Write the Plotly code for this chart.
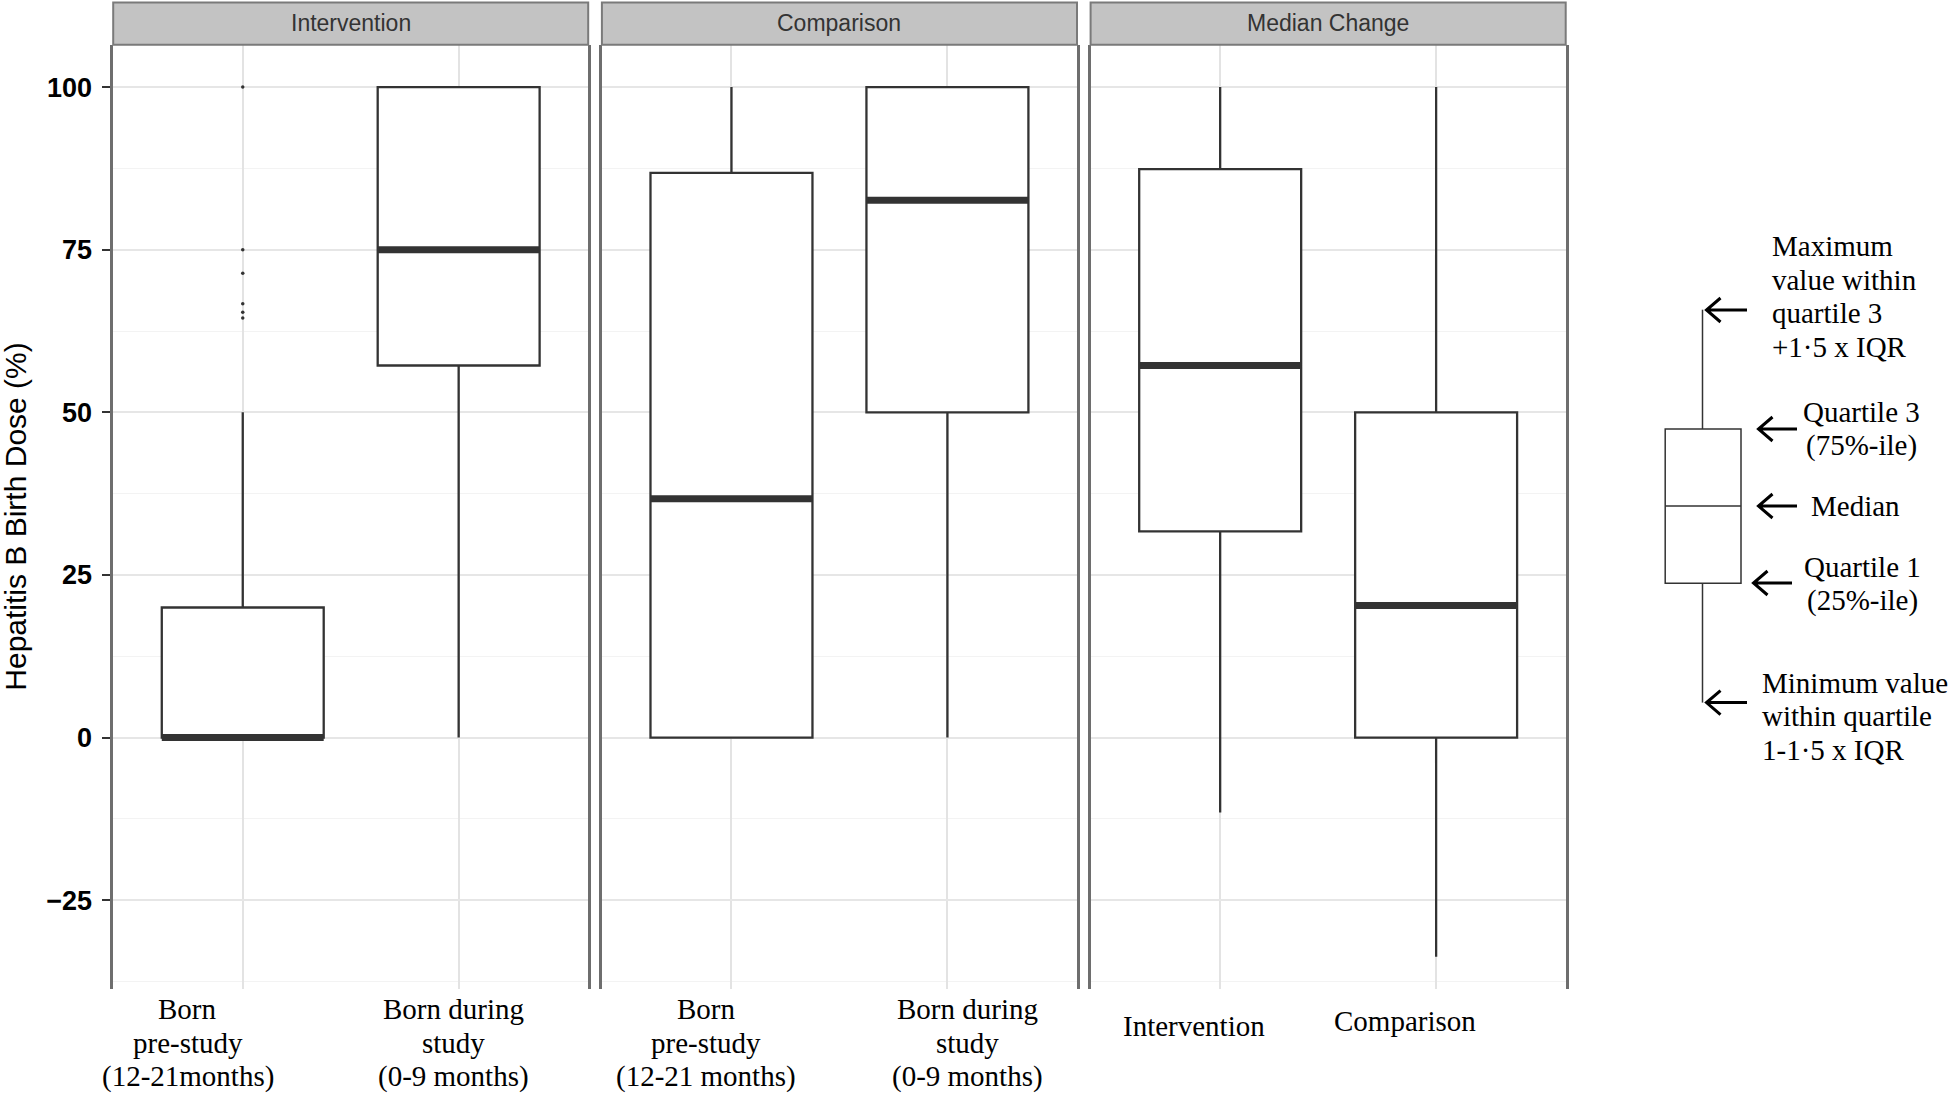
import plotly.graph_objects as go

W, H = 1950, 1096

# ---------------- data ----------------
panel_titles = ["Intervention", "Comparison", "Median Change"]
cat_pos = [1, 2]
q1_vals = [[0, 57.2], [0, 50], [31.7, 0]]
median_vals = [[0, 75], [36.7, 82.6], [57.2, 20.3]]
q3_vals = [[20, 100], [86.8, 100], [87.4, 50]]
lower_vals = [[0, 0], [0, 0], [-11.5, -33.7]]
upper_vals = [[50, 100], [100, 100], [100, 100]]
outliers_pre_intervention = [100, 75, 71.4, 66.7, 65.4, 64.5]
x_labels = [
    [["Born", "pre-study", "(12-21months)"], ["Born during", "study", "(0-9 months)"]],
    [["Born", "pre-study", "(12-21 months)"], ["Born during", "study", "(0-9 months)"]],
    [["Intervention"], ["Comparison"]],
]
y_tick_vals = [-25, 0, 25, 50, 75, 100]
y_tick_text = ["\u221225", "0", "25", "50", "75", "100"]
y_title = "Hepatitis B Birth Dose (%)"

# ---------------- layout helpers (pixel -> paper) ----------------
def px(x):
    return x / W

def py(y):
    return 1 - y / H

panel_px = [(113.2, 588.2), (601.9, 1077.0), (1090.6, 1565.7)]
plot_top, plot_bot = 44.8, 988.7
strip_top = 2.5
BOX_W = 0.75
DARK = "#333333"
LINE_H = 34.0

fig = go.Figure()

for i in range(3):
    xa = "x" if i == 0 else f"x{i+1}"
    ya = "y" if i == 0 else f"y{i+1}"
    for j, c in enumerate(cat_pos):
        fig.add_trace(go.Box(
            x=[c], q1=[q1_vals[i][j]], median=[median_vals[i][j]], q3=[q3_vals[i][j]],
            lowerfence=[lower_vals[i][j]], upperfence=[upper_vals[i][j]],
            width=BOX_W, fillcolor="white", line=dict(color=DARK, width=2.3),
            whiskerwidth=0, boxpoints=False, hoverinfo="skip",
            xaxis=xa, yaxis=ya, showlegend=False,
        ))
    # thick median lines
    mx, my = [], []
    for j, c in enumerate(cat_pos):
        mx += [c - BOX_W / 2, c + BOX_W / 2, None]
        my += [median_vals[i][j], median_vals[i][j], None]
    fig.add_trace(go.Scatter(x=mx, y=my, mode="lines", line=dict(color=DARK, width=7),
                             xaxis=xa, yaxis=ya, showlegend=False, hoverinfo="skip"))

# outliers (Intervention, born pre-study)
fig.add_trace(go.Scatter(x=[cat_pos[0]] * len(outliers_pre_intervention), y=outliers_pre_intervention,
                         mode="markers", marker=dict(color=DARK, size=3.5),
                         xaxis="x", yaxis="y", showlegend=False, hoverinfo="skip"))

layout = dict(
    width=W, height=H, margin=dict(l=0, r=0, t=0, b=0),
    paper_bgcolor="white", plot_bgcolor="white",
    showlegend=False, boxmode="overlay",
)
ydomain = [py(plot_bot), py(plot_top)]
for i in range(3):
    xk = "xaxis" if i == 0 else f"xaxis{i+1}"
    yk = "yaxis" if i == 0 else f"yaxis{i+1}"
    layout[xk] = dict(
        domain=[px(panel_px[i][0]), px(panel_px[i][1])],
        range=[0.4, 2.6], tickvals=cat_pos, showticklabels=False, ticks="",
        showgrid=True, gridcolor="#E3E3E3", gridwidth=1.5, zeroline=False,
        showline=False, anchor="y" if i == 0 else f"y{i+1}", fixedrange=True,
    )
    ydict = dict(
        domain=ydomain, range=[-38.6, 106.5],
        tickmode="array", tickvals=y_tick_vals,
        showgrid=True, gridcolor="#E6E6E6", gridwidth=1.5, zeroline=False,
        showline=True, mirror=True, linecolor="#6E6E6E", linewidth=2.5,
        minor=dict(tickmode="linear", tick0=0, dtick=12.5, showgrid=True,
                   gridcolor="#F3F3F3", gridwidth=1.2, ticks=""),
        anchor="x" if i == 0 else f"x{i+1}", fixedrange=True,
    )
    if i == 0:
        ydict.update(ticktext=y_tick_text, ticks="outside", ticklen=8, tickwidth=1.5,
                     tickcolor=DARK, ticklabelstandoff=5,
                     tickfont=dict(family="Liberation Sans", size=27, color="black", weight="bold"))
    else:
        ydict.update(matches="y", showticklabels=False, ticks="")
    layout[yk] = ydict
fig.update_layout(**layout)

shapes = []
annotations = []
# strips
for i in range(3):
    x0, x1 = panel_px[i]
    shapes.append(dict(type="rect", xref="paper", yref="paper",
                       x0=px(x0), x1=px(x1), y0=py(plot_top), y1=py(strip_top),
                       fillcolor="#C3C3C3", line=dict(color="#7A7A7A", width=2), layer="above"))
    annotations.append(dict(xref="paper", yref="paper", x=px((x0 + x1) / 2), y=py(23),
                            text=panel_titles[i], showarrow=False, xanchor="center", yanchor="middle",
                            font=dict(family="Liberation Sans", size=23, color="#333333")))

# x labels (placed manually as in the original), one annotation per line
label_px = [[187.8, 453.9], [706.4, 967.5], [1193.9, 1405.3]]
label_py = [[1008.6, 1008.6], [1008.6, 1008.6], [1026, 1021]]
xl_font = dict(family="Liberation Serif", size=29, color="black")
for i in range(3):
    for j in range(2):
        for k, line in enumerate(x_labels[i][j]):
            annotations.append(dict(xref="paper", yref="paper", x=px(label_px[i][j]),
                                    y=py(label_py[i][j] + k * LINE_H),
                                    text=line, showarrow=False, xanchor="center", yanchor="middle",
                                    font=xl_font))

# y title
annotations.append(dict(xref="paper", yref="paper", x=px(16), y=py(516.7), text=y_title,
                        textangle=-90, showarrow=False, xanchor="center", yanchor="middle",
                        font=dict(family="Liberation Sans", size=30, color="black")))

# ---------------- schematic legend ----------------
lw = dict(color=DARK, width=1.5)
shapes.append(dict(type="line", xref="paper", yref="paper", x0=px(1702.5), x1=px(1702.5),
                   y0=py(309.7), y1=py(429), line=lw))
shapes.append(dict(type="line", xref="paper", yref="paper", x0=px(1702.5), x1=px(1702.5),
                   y0=py(583.2), y1=py(702.6), line=lw))
shapes.append(dict(type="rect", xref="paper", yref="paper", x0=px(1665.2), x1=px(1741),
                   y0=py(583.2), y1=py(429), line=lw, fillcolor="white"))
shapes.append(dict(type="line", xref="paper", yref="paper", x0=px(1665.2), x1=px(1741),
                   y0=py(506), y1=py(506), line=lw))

arrows = [(1706.5, 310, 1747), (1758.5, 429, 1797), (1758.5, 506, 1797),
          (1753.5, 583, 1792), (1706.5, 702.6, 1747)]
for tx, ty, tail in arrows:
    path = (f"M {px(tail)},{py(ty)} L {px(tx)},{py(ty)} "
            f"M {px(tx + 14)},{py(ty - 12)} L {px(tx)},{py(ty)} L {px(tx + 14)},{py(ty + 12)}")
    shapes.append(dict(type="path", xref="paper", yref="paper", path=path,
                       line=dict(color="black", width=3)))

leg_font = dict(family="Liberation Serif", size=29, color="black")
legend_texts = [
    (["Maximum", "value within", "quartile 3", "+1\u00b75 x IQR"], 1769.6, 246.2, "left"),
    (["Quartile 3", "(75%-ile)"], 1861.7, 411.6, "center"),
    (["Median"], 1809.4, 506, "left"),
    (["Quartile 1", "(25%-ile)"], 1862.9, 567.0, "center"),
    (["Minimum value", "within quartile", "1-1\u00b75 x IQR"], 1759.7, 682.7, "left"),
]
for lines, x, y0, xa in legend_texts:
    for k, line in enumerate(lines):
        annotations.append(dict(xref="paper", yref="paper", x=px(x), y=py(y0 + k * 33.6), text=line,
                                showarrow=False, xanchor=xa, yanchor="middle", font=leg_font))

fig.update_layout(shapes=shapes, annotations=annotations)

fig.write_html("out.html", config={"displayModeBar": False},
               post_script="document.body.style.margin='0';document.body.style.overflow='hidden';")
